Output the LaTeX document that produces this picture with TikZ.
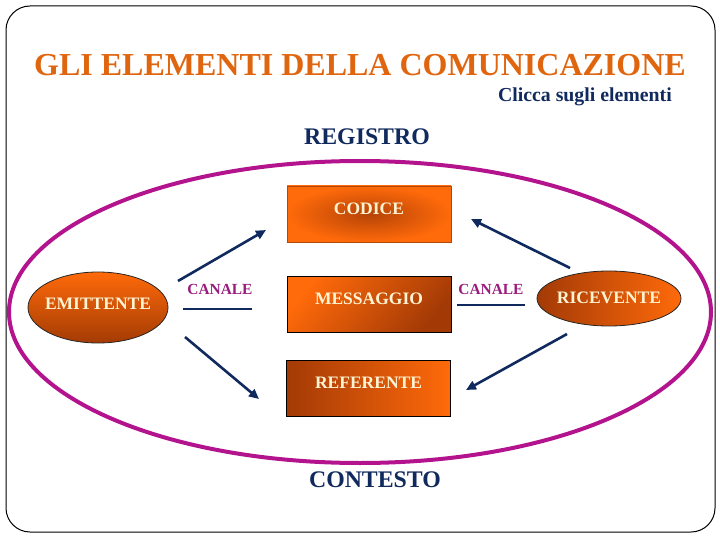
\documentclass[tikz,border=0pt]{standalone}
\usepackage{fontspec}
\setmainfont{Liberation Serif}
\usetikzlibrary{shapes.geometric,arrows.meta}
\definecolor{titleor}{HTML}{E0650F}
\definecolor{navy}{HTML}{112A5E}
\definecolor{magen}{HTML}{B3148E}
\definecolor{orL}{HTML}{FF6A0A}
\definecolor{orD}{HTML}{A33A06}
\definecolor{orM}{HTML}{CC4A05}
\definecolor{cream}{HTML}{FFF4D2}
\definecolor{canalec}{HTML}{9A1B7E}
\begin{document}
\begin{tikzpicture}[x=1pt,y=-1pt,
  box/.style={rectangle, minimum width=164pt, minimum height=56pt, inner sep=0pt,
    text=cream, font=\fontsize{17.5}{20}\selectfont\bfseries, text depth=10pt},
  ell/.style={ellipse, draw=black!85, line width=0.8pt, inner sep=0pt},
  elltxt/.style={text=cream, font=\fontsize{17.5}{20}\selectfont\bfseries, inner sep=0pt},
  arr/.style={draw=navy, line width=2.6pt, -{Triangle[length=10pt,width=9pt]}},
  canline/.style={draw=navy, line width=2.6pt},
  canlbl/.style={text=canalec, font=\fontsize{15.4}{18}\selectfont\bfseries, inner sep=0pt},
  big/.style={font=\fontsize{23.8}{28}\selectfont\bfseries, inner sep=0pt, text=navy}]
\useasboundingbox (0,0) rectangle (720,540);
\draw[black, line width=1pt, rounded corners=24pt] (6,6) rectangle (715,532);
\node[text=titleor, font=\fontsize{32}{36}\selectfont\bfseries, inner sep=0pt] (title) at (360,65) {GLI ELEMENTI DELLA COMUNICAZIONE};
\node[text=navy, font=\fontsize{19.8}{22}\selectfont\bfseries, inner sep=0pt, anchor=east] (clicca) at (672,97) {Clicca sugli elementi};
\node[big] (registro) at (367,137) {REGISTRO};
\draw[magen, line width=4pt] (360,312) ellipse [x radius=351, y radius=151];
\node[big] (contesto) at (375,480) {CONTESTO};
% boxes
\node[box, shading=radial, inner color=orD!80!orL, outer color=orL, draw=orL!70!black, line width=0.3pt] (codice) at (369,214) {CODICE};
\node[box, shade, shading=axis, top color=orL, middle color=orL, bottom color=orD, shading angle=50, draw=black, line width=0.5pt] (messaggio) at (369,304) {MESSAGGIO};
\node[box, left color=orD, right color=orL, draw=black, line width=0.8pt] (referente) at (368.5,388) {REFERENTE};
% ellipses
\node[ell, top color=orL, bottom color=orM!80!black, minimum width=140pt, minimum height=71pt] (emit) at (98,307.5) {};
\node[elltxt] (emitT) at (98,304) {EMITTENTE};
\node[ell, left color=orD, right color=orL, minimum width=144pt, minimum height=55pt] (ricev) at (609,298.5) {};
\node[elltxt] (ricevT) at (609,298) {RICEVENTE};
% canale
\node[canlbl] (canL) at (220,289) {CANALE};
\coordinate (cl1) at (183,309); \coordinate (cl2) at (252,309);
\draw[canline] (cl1) -- (cl2);
\node[canlbl] (canR) at (491,289) {CANALE};
\coordinate (cr1) at (457,305); \coordinate (cr2) at (525,305);
\draw[canline] (cr1) -- (cr2);
% arrows
\coordinate (a1s) at (178,281); \coordinate (a1e) at (266,230);
\coordinate (a2s) at (185,337); \coordinate (a2e) at (259,399);
\coordinate (a3s) at (570,268); \coordinate (a3e) at (471,219);
\coordinate (a4s) at (567,334); \coordinate (a4e) at (466,390);
\draw[arr] (a1s) -- (a1e);
\draw[arr] (a2s) -- (a2e);
\draw[arr] (a3s) -- (a3e);
\draw[arr] (a4s) -- (a4e);
\end{tikzpicture}
\end{document}
